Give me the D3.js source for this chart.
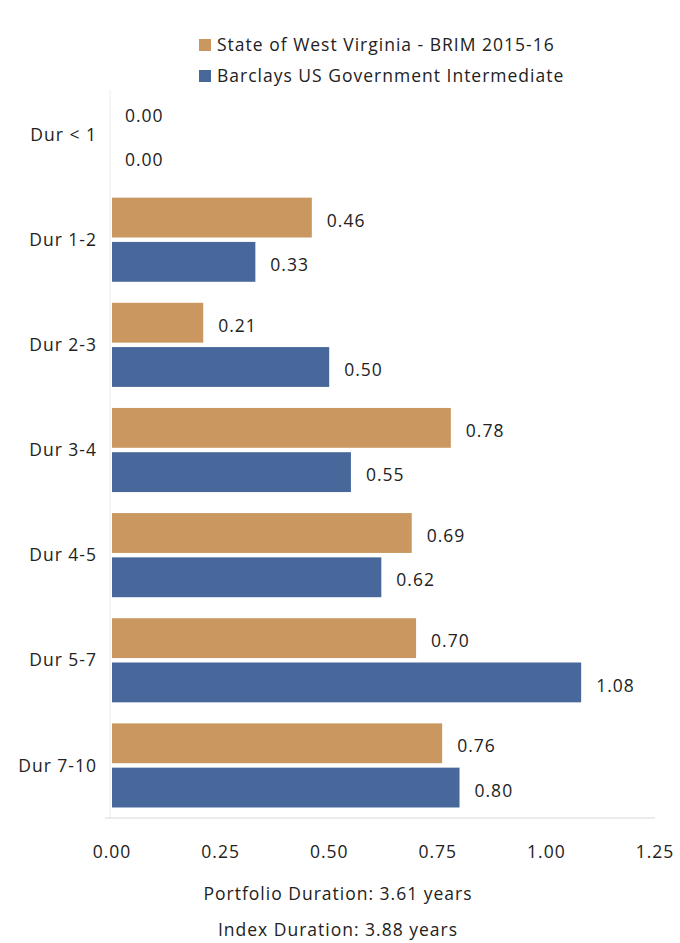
<!DOCTYPE html>
<html><head><meta charset="utf-8">
<script src="https://cdn.jsdelivr.net/npm/d3@7"></script>
<style>body{margin:0;background:#fff;} svg{display:block;font-family:"Open Sans","Noto Sans",sans-serif;}</style>
</head><body>
<script>
const categories = ["Dur < 1","Dur 1-2","Dur 2-3","Dur 3-4","Dur 4-5","Dur 5-7","Dur 7-10"];
const seriesNames = ["State of West Virginia - BRIM 2015-16","Barclays US Government Intermediate"];
const portfolio = [0.00,0.46,0.21,0.78,0.69,0.70,0.76];
const benchmark = [0.00,0.33,0.50,0.55,0.62,1.08,0.80];
const xTicks = [0,0.25,0.5,0.75,1.0,1.25];
const footer = ["Portfolio Duration: 3.61 years","Index Duration:  3.88 years"];
const colors = ["#C9975F","#48679A"];

const W=680,H=943;
const svg=d3.select("body").append("svg").attr("width",W).attr("height",H);
const x=d3.scaleLinear().domain([0,1.25]).range([112,655]);
const y=d3.scaleBand().domain(categories).range([82,818]).paddingInner(0.2).paddingOuter(0.1);
const sub=d3.scaleBand().domain([0,1]).range([0,y.bandwidth()]).paddingInner(0.1);
const FS=17.5, LS=1;

// axis lines
svg.append("line").attr("x1",110).attr("x2",110).attr("y1",90).attr("y2",818).attr("stroke","#ececec");
svg.append("line").attr("x1",105).attr("x2",655).attr("y1",818).attr("y2",818).attr("stroke","#d8d8d8");

const data=[portfolio,benchmark];
const g=svg.append("g");
categories.forEach((c,i)=>{
  data.forEach((s,k)=>{
    const y0=y(c)+sub(k);
    g.append("rect").attr("x",x(0)).attr("y",y0).attr("width",x(s[i])-x(0)).attr("height",sub.bandwidth()).attr("fill",colors[k]);
    g.append("text").attr("x",x(s[i])+(s[i]>0?15:13)).attr("y",y0+sub.bandwidth()/2+3).attr("dy","0.35em")
      .attr("font-size",FS).attr("letter-spacing",LS).attr("fill","#222").text(d3.format(".2f")(s[i]));
  });
  svg.append("text").attr("x",97).attr("y",y(c)+y.bandwidth()/2).attr("dy","0.35em").attr("text-anchor","end")
    .attr("font-size",FS).attr("letter-spacing",LS).attr("fill","#222").text(c);
});

// x tick labels
svg.selectAll(".xt").data(xTicks).enter().append("text").attr("x",d=>x(d)).attr("y",852).attr("dy","0.35em")
  .attr("text-anchor","middle").attr("font-size",FS).attr("letter-spacing",LS).attr("fill","#222").text(d=>d3.format(".2f")(d));

// legend
seriesNames.forEach((n,k)=>{
  const ly=45+k*31;
  svg.append("rect").attr("x",199).attr("y",ly-6).attr("width",12).attr("height",12).attr("fill",colors[k]);
  svg.append("text").attr("x",217).attr("y",ly).attr("dy","0.35em").attr("font-size",FS).attr("letter-spacing",LS).attr("fill","#222").text(n);
});

footer.forEach((t,k)=>{
  svg.append("text").attr("x",338).attr("y",894+k*36).attr("dy","0.35em").attr("text-anchor","middle")
    .attr("font-size",FS).attr("letter-spacing",LS).attr("fill","#222").text(t);
});
</script>
</body></html>
